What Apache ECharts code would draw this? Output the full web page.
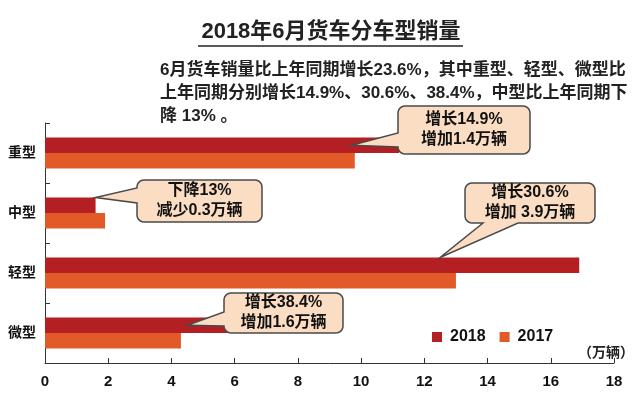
<!DOCTYPE html>
<html><head><meta charset="utf-8">
<script src="https://cdn.jsdelivr.net/npm/echarts@6/dist/echarts.min.js"></script>
<style>html,body{margin:0;padding:0;background:#fff}#c{width:640px;height:395px}</style>
</head><body><div id="c"></div>
<script>
// ---- data ----
const categories = ['重型', '中型', '轻型', '微型'];
const seriesNames = ['2018', '2017'];
const sales2018 = [11.2, 1.6, 16.9, 5.9];
const sales2017 = [9.8, 1.9, 13.0, 4.3];
const xMin = 0, xMax = 18, xInterval = 2;
const unitLabel = '（万辆）';
const titleText = '2018年6月货车分车型销量';
const noteLines = [
  '6月货车销量比上年同期增长23.6%，其中重型、轻型、微型比',
  '上年同期分别增长14.9%、30.6%、38.4%，中型比上年同期下',
  '降 13% 。'
];
const calloutLines = [
  ['增长14.9%', '增加1.4万辆'],
  ['下降13%', '减少0.3万辆'],
  ['增长30.6%', '增加 3.9万辆'],
  ['增长38.4%', '增加1.6万辆']
];
// x value on each 2018 bar where the callout pointer touches
const calloutTargets = [9.7, 1.6, 12.5, 4.5];

// ---- styles ----
const FONT = "'Liberation Sans','Noto Sans CJK SC',sans-serif";
const RED = '#B41F24', ORANGE = '#E25A27';
const BW = 15.5;

const chart = echarts.init(document.getElementById('c'), null, {renderer: 'canvas'});
chart.setOption({
  animation: false,
  backgroundColor: '#fff',
  grid: {left: 45, right: 26, top: 123, bottom: 32},
  legend: {
    data: seriesNames, left: 432, top: 329, icon: 'rect',
    itemWidth: 10, itemHeight: 10, itemGap: 14, padding: 0,
    textStyle: {fontFamily: FONT, fontSize: 16, fontWeight: 'bold', color: '#111', padding: [0, 0, 0, 3]}
  },
  xAxis: {
    type: 'value', min: xMin, max: xMax, interval: xInterval,
    axisLine: {show: true, lineStyle: {color: '#333', width: 1}},
    axisTick: {show: true, inside: true, length: 5, lineStyle: {color: '#333'}},
    axisLabel: {margin: 11, fontFamily: FONT, fontSize: 15, fontWeight: 'bold', color: '#111'},
    splitLine: {show: false}
  },
  yAxis: {
    type: 'category', data: categories, inverse: true,
    axisLine: {show: true, lineStyle: {color: '#333', width: 1}},
    axisTick: {show: true, inside: true, length: 5, lineStyle: {color: '#333'}},
    axisLabel: {margin: 9, fontFamily: FONT, fontSize: 14, fontWeight: 'bold', color: '#111'}
  },
  series: [
    {name: seriesNames[0], type: 'bar', data: sales2018, barWidth: BW, barGap: '0%',
     itemStyle: {color: RED}},
    {name: seriesNames[1], type: 'bar', data: sales2017, barWidth: BW, barGap: '0%',
     itemStyle: {color: ORANGE}}
  ]
});

function arcPts(cx, cy, r, a0, a1, pts) {
  const n = 6;
  for (let i = 0; i <= n; i++) {
    const a = (a0 + (a1 - a0) * i / n) * Math.PI / 180;
    pts.push([cx + r * Math.cos(a), cy + r * Math.sin(a)]);
  }
}
function calloutPoints(x, y, w, h, r, side, b1, b2, tip) {
  const pts = [];
  arcPts(x + w - r, y + r, r, -90, 0, pts);
  arcPts(x + w - r, y + h - r, r, 0, 90, pts);
  if (side === 'bottom') { pts.push([b2, y + h]); pts.push(tip); pts.push([b1, y + h]); }
  arcPts(x + r, y + h - r, r, 90, 180, pts);
  if (side === 'left') { pts.push([x, b2]); pts.push(tip); pts.push([x, b1]); }
  arcPts(x + r, y + r, r, 180, 270, pts);
  return pts;
}

// callout box layout (pixels) : x, y, w, h, side, base1, base2, tip vertical anchor
const boxes = [
  {x: 398, y: 106, w: 132, h: 48, side: 'left', b1: 133, b2: 147, anchor: 'mid'},
  {x: 137, y: 180, w: 125, h: 42, side: 'left', b1: 188, b2: 203, anchor: 'top'},
  {x: 465, y: 183, w: 130, h: 40, side: 'bottom', b1: 483, b2: 518, anchor: 'top'},
  {x: 224, y: 293, w: 119, h: 40, side: 'left', b1: 312, b2: 326, anchor: 'mid'}
];

const g = [];
boxes.forEach((b, i) => {
  const p = chart.convertToPixel({gridIndex: 0}, [calloutTargets[i], categories[i]]);
  const tip = [p[0], b.anchor === 'top' ? p[1] - BW : p[1] - BW / 2];
  g.push({
    type: 'polygon', z: 100,
    shape: {points: calloutPoints(b.x, b.y, b.w, b.h, 7, b.side, b.b1, b.b2, tip)},
    style: {fill: '#FBDDC3', stroke: '#4A4A4A', lineWidth: 1.5}
  });
  const cx = b.x + b.w / 2, cy = b.y + b.h / 2;
  calloutLines[i].forEach((t, k) => {
    g.push({
      type: 'text', z: 101,
      style: {text: t, x: cx, y: cy + (k === 0 ? -10 : 10), textAlign: 'center', textVerticalAlign: 'middle',
              fontFamily: FONT, fontSize: 16, fontWeight: 'bold', fill: '#111'}
    });
  });
});

g.push({
  type: 'text', z: 100,
  style: {text: titleText, x: 331, y: 32, textAlign: 'center', textVerticalAlign: 'middle',
          fontFamily: FONT, fontSize: 22, fontWeight: 'bold', fill: '#222'}
});
g.push({type: 'line', z: 100, shape: {x1: 198, y1: 46, x2: 463, y2: 46}, style: {stroke: '#222', lineWidth: 1.5}});
noteLines.forEach((t, k) => {
  g.push({
    type: 'text', z: 100,
    style: {text: t, x: 160, y: 70 + 23 * k, textAlign: 'left', textVerticalAlign: 'middle',
            fontFamily: FONT, fontSize: 17, fontWeight: 'bold', fill: '#222'}
  });
});
g.push({
  type: 'text', z: 100,
  style: {text: unitLabel, x: 634, y: 353, textAlign: 'right', textVerticalAlign: 'middle',
          fontFamily: FONT, fontSize: 14, fontWeight: 'bold', fill: '#222'}
});

chart.setOption({graphic: g});
</script>
</body></html>
